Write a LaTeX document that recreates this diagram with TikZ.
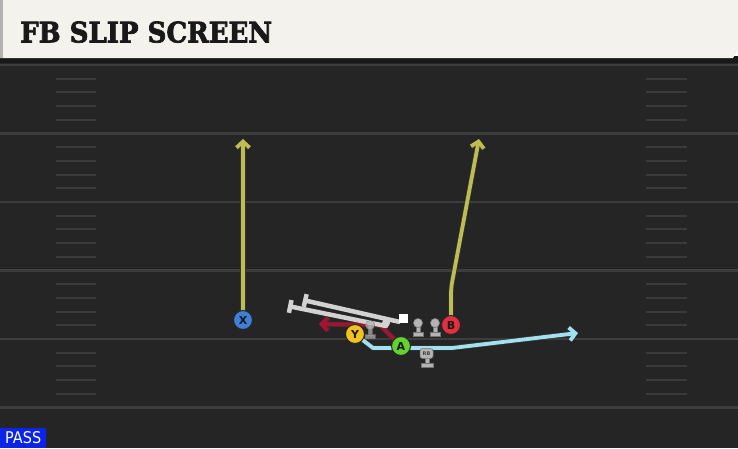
\documentclass[tikz,border=0pt]{standalone}
\usepackage{fontspec}
\setsansfont{DejaVu Sans}
\newfontfamily\titlefont{DejaVu Serif}[FakeBold=2.5]
\usetikzlibrary{arrows.meta,positioning}

\definecolor{fieldbg}{HTML}{252525}
\definecolor{yardline}{HTML}{3D3D3D}
\definecolor{hashmark}{HTML}{3A3A3A}
\definecolor{headerbg}{HTML}{F4F2EC}
\definecolor{routeyel}{HTML}{BDBD52}
\definecolor{routeblue}{HTML}{A2E1F0}
\definecolor{routered}{HTML}{A3132F}
\definecolor{blockgray}{HTML}{D2D2D2}
\definecolor{olgray}{HTML}{B4B4B4}
\definecolor{xblue}{HTML}{3F7FD8}
\definecolor{yyellow}{HTML}{F2C21E}
\definecolor{agreen}{HTML}{62D22E}
\definecolor{bred}{HTML}{E2303F}
\definecolor{passblue}{HTML}{0A24E8}

\begin{document}
\begin{tikzpicture}[x=1pt,y=-1pt,
    player/.style={circle,draw=black!85,line width=1pt,minimum size=19pt,inner sep=0pt,
      font=\sffamily\bfseries\fontsize{11}{11}\selectfont,text=black!90},
    route/.style={line width=3.8pt,line join=round,
      -{Straight Barb[length=6pt,width=13pt]},
      preaction={draw=black!80,line width=5.2pt}},
    block/.style={draw=blockgray,line width=4.5pt,{Bar[width=13pt]}-},
    lineman/.pic={
      \filldraw[olgray,draw=black!55,line width=0.5pt] (-1.8,0) rectangle (1.8,10);
      \filldraw[olgray,draw=black!55,line width=0.5pt] (-5.2,9.5) rectangle (5.2,13.5);
      \filldraw[olgray,draw=black!55,line width=0.5pt] (0,0) circle (4.6);
    }]
    \useasboundingbox (0,0) rectangle (738,448);

    % field
    \fill[fieldbg] (0,56) rectangle (738,448);
    \fill[black!90] (0,56) rectangle (738,63);
    \foreach \yl in {65,133.5,202,270.5,339,407.5}
        \draw[yardline,line width=2.5pt] (0,\yl) -- (738,\yl);
    \foreach \yl in {65,133.5,202,270.5,339}
        \foreach \k in {1,...,4} {
            \draw[hashmark,line width=2pt] (56,{\yl+13.7*\k}) -- (96,{\yl+13.7*\k});
            \draw[hashmark,line width=2pt] (646,{\yl+13.7*\k}) -- (687,{\yl+13.7*\k});
        }

    % header
    \fill[headerbg] (0,0) -- (738,0) -- (738,50) -- (733,58) -- (0,58) -- cycle;
    \fill[black!30] (0,0) rectangle (3,58);
    \node[anchor=south west,inner sep=0pt,text=black!90] (title) at (20,43)
        {\resizebox{252pt}{21pt}{\titlefont\bfseries FB SLIP SCREEN}};

    % play type
    \node[fill=passblue,anchor=south west,minimum width=46pt,minimum height=20pt,inner sep=0pt,
        text=white] (pass) at (0,448) {\resizebox{36pt}{12pt}{\sffamily PASS}};

    % players
    \coordinate (X) at (243,320);
    \coordinate (Y) at (355,334);
    \coordinate (A) at (401,346);
    \coordinate (B) at (451,325);

    % routes
    \draw[route,routeyel] (X) -- (243,139);
    \draw[route,routeyel,rounded corners=6pt] (B) -- (451,288) -- (479,139);
    \draw[route,routered] (A) -- (380,325) -- (319,324);
    \draw[route,routeblue] (Y) -- (373,348) -- (452,348) -- (578,333);

    % blocks
    \draw[block] (303,300) -- (400,322);
    \draw[block,line cap=round] (288,306) -- (386,326);
    \node[fill=white,minimum size=9pt,inner sep=0pt] (blockend) at (403.5,318) {};
    \fill[blockgray] (386,323) circle (4);

    % line
    \pic[opacity=0.7] at (370,325) {lineman};
    \pic at (418,323) {lineman};
    \pic at (435,323) {lineman};
    \filldraw[olgray,draw=black!55,line width=0.5pt] (425,357) rectangle (429,364);
    \filldraw[olgray,draw=black!55,line width=0.5pt] (421,363) rectangle (433,367);
    \node[fill=olgray,draw=black!55,line width=0.5pt,rounded corners=2.5pt,minimum width=13pt,
        minimum height=10pt,inner sep=0pt,font=\sffamily\bfseries\fontsize{5}{5}\selectfont,
        text=black!75] (rb) at (426.5,353.5) {RB};

    \node[player,fill=xblue] (xrec) at (X) {X};
    \node[player,fill=yyellow] (yrec) at (Y) {Y};
    \node[player,fill=agreen] (aback) at (A) {A};
    \node[player,fill=bred] (brec) at (B) {B};
\end{tikzpicture}
\end{document}
